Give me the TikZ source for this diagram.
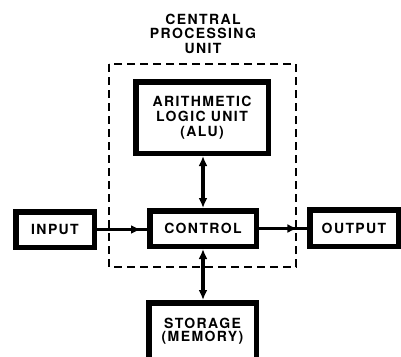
\documentclass[tikz,border=0pt]{standalone}
\usepackage{fontspec}
\setmainfont{TeX Gyre Heros}[LetterSpace=10]
\usetikzlibrary{arrows.meta,decorations.markings}
\tikzset{
  box/.style={draw=black, line width=5.5pt, fill=white, inner sep=0pt, align=center,
    font=\bfseries\fontsize{14}{15}\selectfont},
  lbl/.style={inner sep=0pt, align=center, font=\bfseries\fontsize{14}{14.5}\selectfont},
  tip/.tip={Latex[length=10pt,width=9pt]},
  dbl/.style={draw=black, line width=3.5pt, arrows={tip-tip}},
  flow/.style={draw=black, line width=3pt, postaction={decorate}},
  cpu/.style={draw=black, line width=2pt, dash pattern=on 8pt off 5pt}
}
\begin{document}
\begin{tikzpicture}[x=1pt,y=-1pt]
\useasboundingbox (0,0) rectangle (401,356);
\fill[white] (0,0) rectangle (401,356);
% dashed CPU boundary
\draw[cpu] (109,64) rectangle (296,267);
\node[lbl] (title) at (203,33.5) {CENTRAL\\PROCESSING\\UNIT};
% boxes
\node[box, minimum width=132.5pt, minimum height=71.5pt] (alu) at (202,117.5) {ARITHMETIC\\LOGIC UNIT\\(ALU)};
\node[box, minimum width=106.5pt, minimum height=35.5pt] (ctrl) at (203,228.5) {CONTROL};
\node[box, minimum width=78.5pt, minimum height=35.5pt] (in) at (55,229.5) {INPUT};
\node[box, minimum width=88.5pt, minimum height=36.5pt] (out) at (354,228) {OUTPUT};
\node[box, minimum width=107.5pt, minimum height=56.5pt, font=\bfseries\fontsize{14}{13}\selectfont] (mem) at (202.5,331) {STORAGE\\(MEMORY)};
% connectors
\coordinate (a1) at (alu.south -| ctrl.north);
\coordinate (m1) at (mem.north -| ctrl.south);
\draw[dbl] (a1) -- (ctrl.north);
\draw[dbl] (ctrl.south) -- (m1);
\draw[flow, decoration={markings, mark=at position 0.88 with {\arrow{tip}}}] (in.east) -- (in.east -| ctrl.west);
\draw[flow, decoration={markings, mark=at position 0.80 with {\arrow{tip}}}] (ctrl.east) -- (ctrl.east -| out.west);
\end{tikzpicture}
\end{document}
